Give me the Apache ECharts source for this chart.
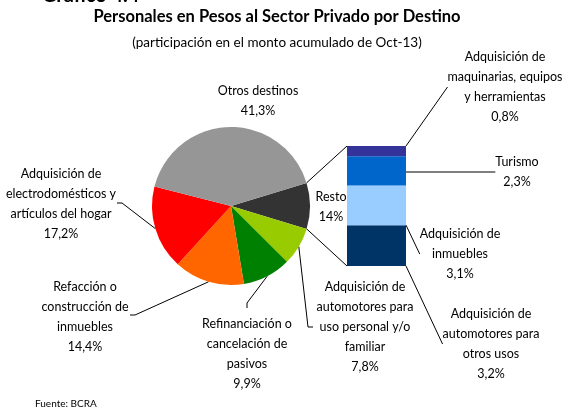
<!DOCTYPE html>
<html>
<head>
<meta charset="utf-8">
<script src="https://cdn.jsdelivr.net/npm/echarts@6/dist/echarts.min.js"></script>
<style>
  html, body { margin: 0; padding: 0; background: #fff; }
  #chart { width: 563px; height: 410px; }
</style>
</head>
<body>
<div id="chart"></div>
<script>
// pie: destinos, en sentido horario desde "Resto"
const pieNames = ['Resto', 'Automotores uso personal', 'Refinanciación', 'Refacción', 'Electrodomésticos', 'Otros destinos']
const pieValues = [9.4, 7.8, 9.9, 14.4, 17.2, 41.3]
const pieLabels = [
  'Resto\n14%',
  'Adquisición de\nautomotores para\nuso personal y/o\nfamiliar\n7,8%',
  'Refinanciación o\ncancelación de\npasivos\n9,9%',
  'Refacción o\nconstrucción de\ninmuebles\n14,4%',
  'Adquisición de\nelectrodomésticos y\nartículos del hogar\n17,2%',
  'Otros destinos\n41,3%'
]
const pieColors = ['#333333', '#99CC00', '#008000', '#FF6600', '#FF0000', '#969696']

// barra: apertura de "Resto" (de abajo hacia arriba)
const restNames = ['Automotores otros usos', 'Inmuebles', 'Turismo', 'Maquinarias']
const restValues = [3.2, 3.1, 2.3, 0.8]
const restLabels = [
  'Adquisición de\nautomotores para\notros usos\n3,2%',
  'Adquisición de\ninmuebles\n3,1%',
  'Turismo\n2,3%',
  'Adquisición de\nmaquinarias, equipos\ny herramientas\n0,8%'
]
const restColors = ['#003366', '#99CCFF', '#0066CC', '#333399']

const FONT = 'Lato, "Open Sans", sans-serif'
const pieCenter = [231, 206]
const pieRadius = 79
const startAngle = 17
const barGrid = { left: 347, top: 146, width: 59, height: 120 }

// posiciones de etiquetas (centro x, tope y) y quiebre de la línea guía
const pieLabelPos = [
  { x: 331, y: 187 },
  { x: 365, y: 277, line: [[308, 327], [313, 327]] },
  { x: 247, y: 314, line: [[247, 303], [247, 308]] },
  { x: 85, y: 277, line: [[135, 315], [130, 315]] },
  { x: 61, y: 164, line: [[122, 203], [117, 203]] },
  { x: 258, y: 81 }
]
const restLabelPos = [
  { x: 491, y: 304, end: [440, 344] },
  { x: 460, y: 224, end: [418, 255] },
  { x: 517, y: 152, end: [492, 171] },
  { x: 505, y: 47, end: [448, 87] }
]

const pieTotal = pieValues.reduce((a, b) => a + b, 0)
const restTotal = restValues.reduce((a, b) => a + b, 0)

// punto sobre el borde del pie para un ángulo (grados, antihorario desde las 3)
const piePoint = (deg) => {
  const rad = (deg * Math.PI) / 180
  return [pieCenter[0] + pieRadius * Math.cos(rad), pieCenter[1] - pieRadius * Math.sin(rad)]
}
const midAngle = (idx) => {
  let acc = 0
  for (let i = 0; i < idx; i++) acc += pieValues[i]
  return startAngle - (360 * (acc + pieValues[idx] / 2)) / pieTotal
}

const labelStyle = {
  color: '#000',
  fontSize: 12.5,
  lineHeight: 20,
  fontFamily: FONT
}

const barSeries = restValues.map((v, i) => ({
  type: 'bar',
  name: restNames[i],
  stack: 'resto',
  data: [v],
  barWidth: '100%',
  itemStyle: { color: restColors[i] },
  label: {
    show: true,
    position: 'inside',
    formatter: () => restLabels[i],
    ...labelStyle
  },
  labelLine: { show: true, lineStyle: { color: '#000', width: 1 } },
  labelLayout: (params) => {
    const p = restLabelPos[i]
    const r = params.rect
    return {
      x: p.x,
      y: p.y,
      align: 'center',
      verticalAlign: 'top',
      labelLinePoints: [[r.x + r.width, r.y + r.height / 2], p.end]
    }
  },
  emphasis: { disabled: true },
  silent: true
}))

const option = {
  animation: false,
  backgroundColor: '#fff',
  title: [
    {
      text: 'Gráfico 4.4',
      left: 42,
      top: -16,
      padding: 0,
      textStyle: { fontFamily: FONT, fontSize: 20, fontWeight: 'bold', color: '#000', lineHeight: 24 }
    },
    {
      text: 'Personales en Pesos al Sector Privado por Destino',
      left: 277,
      textAlign: 'center',
      top: 7,
      padding: 0,
      textStyle: { fontFamily: FONT, fontSize: 16.5, fontWeight: 'bold', color: '#000', lineHeight: 20 }
    },
    {
      text: '(participación en el monto acumulado de Oct-13)',
      left: 277,
      textAlign: 'center',
      top: 34,
      padding: 0,
      textStyle: { fontFamily: FONT, fontSize: 13.5, fontWeight: 'normal', color: '#000', lineHeight: 18 }
    },
    {
      text: 'Fuente: BCRA',
      left: 35,
      top: 397,
      padding: 0,
      textStyle: { fontFamily: FONT, fontSize: 10, fontWeight: 'normal', color: '#000', lineHeight: 14 }
    }
  ],
  grid: { ...barGrid },
  xAxis: { type: 'category', data: ['Resto'], show: false },
  yAxis: { type: 'value', min: 0, max: restTotal, show: false },
  series: [
    {
      type: 'pie',
      center: pieCenter,
      radius: pieRadius,
      startAngle: startAngle,
      clockwise: true,
      avoidLabelOverlap: false,
      silent: true,
      emphasis: { disabled: true },
      data: pieValues.map((v, i) => ({
        name: pieNames[i],
        value: v,
        itemStyle: { color: pieColors[i] },
        labelLine: { show: !!pieLabelPos[i].line }
      })),
      label: {
        show: true,
        position: 'outside',
        formatter: (p) => pieLabels[p.dataIndex],
        ...labelStyle
      },
      labelLine: { show: true, lineStyle: { color: '#000', width: 1 } },
      labelLayout: (params) => {
        const p = pieLabelPos[params.dataIndex]
        const out = { x: p.x, y: p.y, align: 'center', verticalAlign: 'top' }
        if (p.line) out.labelLinePoints = [piePoint(midAngle(params.dataIndex)), ...p.line]
        return out
      }
    },
    ...barSeries
  ]
}

const myChart = echarts.init(document.getElementById('chart'))
myChart.setOption(option)

// líneas que unen la porción "Resto" con la barra
const restEnd = startAngle - (360 * pieValues[0]) / pieTotal
const barTop = myChart.convertToPixel({ gridIndex: 0 }, [0, restTotal])[1]
const barBottom = myChart.convertToPixel({ gridIndex: 0 }, [0, 0])[1]
const pTop = piePoint(startAngle)
const pBottom = piePoint(restEnd)
myChart.setOption({
  graphic: [
    {
      type: 'line',
      silent: true,
      shape: { x1: pTop[0], y1: pTop[1], x2: barGrid.left, y2: barTop },
      style: { stroke: '#000', lineWidth: 1 }
    },
    {
      type: 'line',
      silent: true,
      shape: { x1: pBottom[0], y1: pBottom[1], x2: barGrid.left, y2: barBottom },
      style: { stroke: '#000', lineWidth: 1 }
    }
  ]
})
</script>
</body>
</html>
